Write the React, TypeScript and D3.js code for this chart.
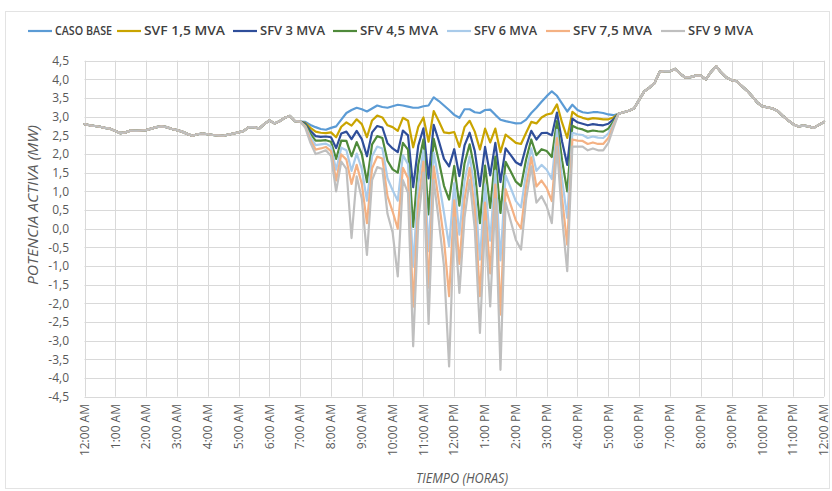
import React from "react";
import * as d3 from "d3";

// ---------- DATA ----------
const timeLabels = [
  "12:00 AM", "1:00 AM", "2:00 AM", "3:00 AM", "4:00 AM", "5:00 AM", "6:00 AM",
  "7:00 AM", "8:00 AM", "9:00 AM", "10:00 AM", "11:00 AM", "12:00 PM", "1:00 PM",
  "2:00 PM", "3:00 PM", "4:00 PM", "5:00 PM", "6:00 PM", "7:00 PM", "8:00 PM",
  "9:00 PM", "10:00 PM", "11:00 PM", "12:00 AM",
];

const yTickValues = [-4.5, -4.0, -3.5, -3.0, -2.5, -2.0, -1.5, -1.0, -0.5, 0, 0.5, 1.0, 1.5, 2.0, 2.5, 3.0, 3.5, 4.0, 4.5];

// 10-minute samples, 00:00 .. 24:00 (145 points)
const caseBase = [
  2.80, 2.77, 2.75, 2.73, 2.70, 2.68, 2.62, 2.56, 2.58, 2.63, 2.62, 2.63,
  2.64, 2.68, 2.72, 2.74, 2.72, 2.67, 2.64, 2.60, 2.54, 2.49, 2.53, 2.55,
  2.53, 2.51, 2.50, 2.49, 2.52, 2.55, 2.58, 2.62, 2.72, 2.72, 2.68, 2.80,
  2.90, 2.82, 2.88, 2.97, 3.02, 2.88, 2.87, 2.86, 2.78, 2.72, 2.67, 2.65,
  2.70, 2.74, 2.92, 3.10, 3.18, 3.24, 3.20, 3.14, 3.22, 3.30, 3.26, 3.24,
  3.28, 3.32, 3.30, 3.27, 3.24, 3.24, 3.28, 3.30, 3.52, 3.42, 3.30, 3.18,
  3.05, 2.97, 3.20, 3.20, 3.12, 3.10, 3.18, 3.19, 3.05, 2.92, 2.88, 2.85,
  2.82, 2.83, 2.92, 3.10, 3.24, 3.40, 3.55, 3.68, 3.56, 3.35, 3.14, 3.32,
  3.18, 3.12, 3.10, 3.12, 3.12, 3.10, 3.06, 3.04, 3.08, 3.12, 3.16, 3.22,
  3.45, 3.68, 3.78, 3.90, 4.20, 4.22, 4.22, 4.28, 4.15, 4.05, 4.06, 4.10,
  4.10, 4.00, 4.20, 4.35, 4.18, 4.05, 3.98, 3.95, 3.82, 3.70, 3.55, 3.38,
  3.28, 3.25, 3.22, 3.15, 3.02, 2.90, 2.80, 2.74, 2.76, 2.74, 2.70, 2.78,
  2.86,
];

// PV cases differ from the base case only during daylight: samples 43 (07:10) .. 103 (17:10)
const DAY_START = 43;

const svf15Day = [
  2.83, 2.70, 2.60, 2.57, 2.56, 2.58, 2.45, 2.73, 2.85, 2.76, 2.93, 2.80, 2.45,
  2.90, 3.03, 2.98, 2.77, 2.72, 2.62, 2.97, 2.89, 2.18, 2.73, 2.98, 2.33, 3.15,
  2.88, 2.58, 2.56, 2.59, 2.19, 2.72, 2.89, 2.60, 2.12, 2.68, 2.31, 2.68, 2.05,
  2.52, 2.41, 2.30, 2.27, 2.57, 2.86, 2.82, 2.98, 3.06, 3.09, 3.33, 2.84, 2.43,
  3.13, 3.02, 2.97, 2.93, 2.96, 2.95, 2.93, 2.93, 2.98,
];

const sfv3Day = [
  2.81, 2.62, 2.48, 2.46, 2.47, 2.45, 2.16, 2.55, 2.60, 2.40, 2.62, 2.40, 1.94,
  2.58, 2.75, 2.71, 2.29, 2.15, 2.05, 2.63, 2.50, 1.11, 2.23, 2.69, 1.35, 2.78,
  2.35, 1.87, 1.67, 2.13, 1.41, 2.23, 2.57, 2.08, 1.14, 2.19, 1.43, 2.30, 1.25,
  2.15, 1.97, 1.78, 1.70, 2.21, 2.62, 2.39, 2.56, 2.57, 2.50, 3.11, 2.33, 1.71,
  2.95, 2.85, 2.81, 2.77, 2.80, 2.78, 2.77, 2.81, 2.93,
];

const sfv45Day = [
  2.78, 2.54, 2.36, 2.36, 2.37, 2.33, 1.87, 2.36, 2.35, 1.94, 2.32, 2.00, 1.25,
  2.26, 2.48, 2.43, 1.82, 1.59, 1.50, 2.30, 2.12, 0.05, 1.72, 2.39, 0.38, 2.41,
  1.81, 1.15, 0.78, 1.68, 0.62, 1.75, 2.26, 1.56, 0.15, 1.69, 0.56, 1.93, 0.42,
  1.79, 1.53, 1.26, 1.14, 1.86, 2.39, 1.97, 2.13, 2.08, 1.92, 2.88, 1.83, 1.00,
  2.76, 2.69, 2.66, 2.60, 2.63, 2.61, 2.60, 2.68, 2.87,
];

const sfv6Day = [
  2.75, 2.46, 2.24, 2.26, 2.28, 2.20, 1.58, 2.17, 2.10, 1.55, 2.01, 1.60, 0.75,
  1.94, 2.20, 2.15, 1.35, 1.03, 0.75, 1.97, 1.73, -1.02, 1.21, 2.09, -0.60, 2.04,
  1.27, 0.43, -0.47, 1.22, -0.16, 1.27, 1.94, 1.04, -0.83, 1.19, -0.32, 1.55, -0.85,
  1.43, 1.09, 0.74, 0.57, 1.51, 2.15, 1.55, 1.71, 1.58, 1.33, 2.65, 1.32, 0.29,
  2.57, 2.53, 2.51, 2.43, 2.47, 2.44, 2.43, 2.55, 2.81,
];

const sfv75Day = [
  2.73, 2.38, 2.12, 2.15, 2.19, 2.08, 1.29, 1.99, 1.85, 1.20, 1.71, 1.20, 0.15,
  1.62, 1.93, 1.88, 0.87, 0.46, 0.00, 1.63, 1.35, -2.09, 0.71, 1.80, -1.58, 1.67,
  0.74, -0.29, -1.81, 0.76, -0.94, 0.78, 1.63, 0.52, -1.81, 0.70, -1.20, 1.18, -2.30,
  1.06, 0.64, 0.22, 0.01, 1.15, 1.91, 1.13, 1.29, 1.09, 0.74, 2.43, 0.81, -0.43,
  2.39, 2.36, 2.35, 2.27, 2.31, 2.27, 2.27, 2.43, 2.76,
];

const sfv9Day = [
  2.70, 2.30, 2.00, 2.05, 2.10, 1.95, 1.00, 1.80, 1.60, -0.25, 1.40, 0.80, -0.70,
  1.30, 1.65, 1.60, 0.40, -0.10, -1.28, 1.30, 0.96, -3.15, 0.20, 1.50, -2.55, 1.30,
  0.20, -1.00, -3.69, 0.30, -1.72, 0.30, 1.31, 0.00, -2.79, 0.20, -2.08, 0.80, -3.78,
  0.70, 0.20, -0.30, -0.56, 0.80, 1.67, 0.70, 0.87, 0.60, 0.15, 2.20, 0.30, -1.14,
  2.20, 2.20, 2.20, 2.10, 2.15, 2.10, 2.10, 2.30, 2.70,
];

const seriesNames = ["CASO BASE", "SVF 1,5 MVA", "SFV 3 MVA", "SFV 4,5 MVA", "SFV 6 MVA", "SFV 7,5 MVA", "SFV 9 MVA"];
const seriesColors = ["#5B9BD5", "#C9A400", "#2F4E9A", "#4F8A3B", "#A9CBEA", "#F4B183", "#BFBFBF"];

function withBase(day: number[]): number[] {
  return [
    ...caseBase.slice(0, DAY_START),
    ...day,
    ...caseBase.slice(DAY_START + day.length),
  ];
}

const seriesValues = [
  caseBase,
  withBase(svf15Day),
  withBase(sfv3Day),
  withBase(sfv45Day),
  withBase(sfv6Day),
  withBase(sfv75Day),
  withBase(sfv9Day),
];

// ---------- LAYOUT ----------
const W = 832;
const H = 491;
const PLOT = { left: 84.5, right: 824, top: 60.7, bottom: 396.7 };
const legendX = [28, 117, 233, 333, 447, 546, 661];
const legendTextWidth = [57, 81, 65, 78, 63, 79, 65];
const LEGEND_Y = 31;
const SAMPLES_PER_HOUR = 6;

const fmt = (v: number) => v.toFixed(1).replace(".", ",");

export default function App() {
  const x = d3.scaleLinear().domain([0, caseBase.length - 1]).range([PLOT.left, PLOT.right]);
  const y = d3.scaleLinear().domain([-4.5, 4.5]).range([PLOT.bottom, PLOT.top]);
  const line = d3
    .line<number>()
    .x((_, i) => x(i))
    .y((d) => y(d));

  const gridColor = "#D9D9D9";
  const textColor = "#595959";
  const tickFont = "'Open Sans', 'Liberation Sans', sans-serif";

  return (
    <svg
      width={W}
      height={H}
      style={{ position: "absolute", left: 0, top: 0, background: "#fff" }}
    >
      <rect x={5.5} y={11.5} width={824} height={477} fill="#fff" stroke="#E3E3E3" />

      {/* horizontal gridlines */}
      {yTickValues.map((v) => (
        <line
          key={"h" + v}
          x1={PLOT.left}
          x2={PLOT.right}
          y1={Math.round(y(v)) + 0.5}
          y2={Math.round(y(v)) + 0.5}
          stroke={gridColor}
          strokeWidth={1}
        />
      ))}
      {/* vertical gridlines */}
      {timeLabels.map((t, k) => (
        <line
          key={"v" + k}
          x1={Math.round(x(k * SAMPLES_PER_HOUR)) + 0.5}
          x2={Math.round(x(k * SAMPLES_PER_HOUR)) + 0.5}
          y1={PLOT.top}
          y2={PLOT.bottom}
          stroke={gridColor}
          strokeWidth={1}
        />
      ))}

      {/* y tick labels */}
      {yTickValues.map((v) => (
        <text
          key={"yl" + v}
          x={69}
          y={y(v)}
          dy="0.35em"
          textAnchor="end"
          fontFamily={tickFont}
          fontSize={12}
          fill={textColor}
        >
          {fmt(v)}
        </text>
      ))}

      {/* x tick labels */}
      {timeLabels.map((t, k) => {
        const px = x(k * SAMPLES_PER_HOUR);
        return (
          <text
            key={"xl" + k}
            transform={`translate(${px},${404}) rotate(-90)`}
            dy="0.35em"
            textAnchor="end"
            fontFamily={tickFont}
            fontSize={12}
            fill={textColor}
          >
            {t}
          </text>
        );
      })}

      {/* axis titles */}
      <text
        transform={`translate(33,${205}) rotate(-90)`}
        textAnchor="middle"
        dy="0.35em"
        fontFamily={tickFont}
        fontStyle="italic"
        fontSize={14}
        fill={textColor}
        textLength={160}
        lengthAdjust="spacingAndGlyphs"
      >
        POTENCIA ACTIVA (MW)
      </text>
      <text
        x={462}
        y={478}
        textAnchor="middle"
        dy="0.35em"
        fontFamily={tickFont}
        fontStyle="italic"
        fontSize={14}
        fill={textColor}
        textLength={92}
        lengthAdjust="spacingAndGlyphs"
      >
        TIEMPO (HORAS)
      </text>

      {/* series */}
      {seriesValues.map((vals, s) => (
        <path
          key={"s" + s}
          d={line(vals) || ""}
          fill="none"
          stroke={seriesColors[s]}
          strokeWidth={2.2}
          strokeLinejoin="round"
          strokeLinecap="round"
        />
      ))}

      {/* legend */}
      {seriesNames.map((name, s) => (
        <g key={"lg" + s} transform={`translate(${legendX[s]},${LEGEND_Y})`}>
          <line x1={0} x2={24} y1={0} y2={0} stroke={seriesColors[s]} strokeWidth={2.2} />
          <text
            x={27}
            y={0}
            dy="0.35em"
            fontFamily={tickFont}
            fontWeight={600}
            fontSize={12.5}
            fill="#404040"
            textLength={legendTextWidth[s]}
            lengthAdjust="spacingAndGlyphs"
          >
            {name}
          </text>
        </g>
      ))}
    </svg>
  );
}
